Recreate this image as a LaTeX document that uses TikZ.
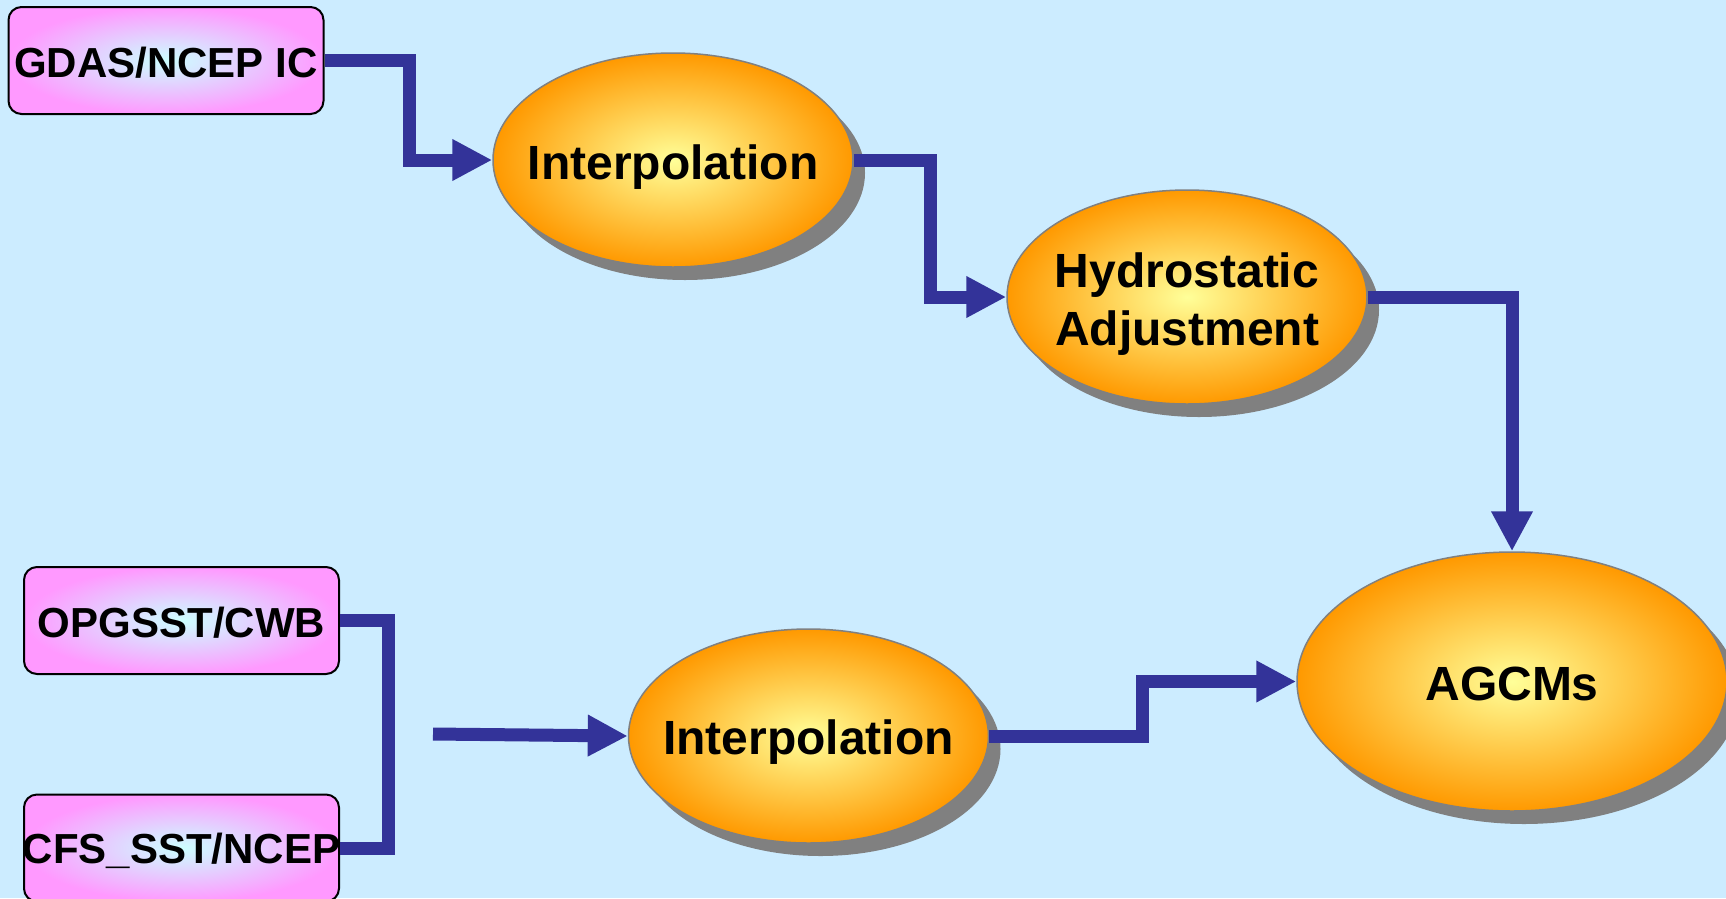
\documentclass[tikz,border=0pt]{standalone}
\usepackage{fontspec}
\setmainfont{Liberation Sans}
\usetikzlibrary{shapes.geometric,arrows.meta,shadows}
\definecolor{bg}{RGB}{204,236,255}
\definecolor{arrowblue}{RGB}{51,51,153}
\definecolor{shadowgray}{RGB}{128,128,128}
\definecolor{orangeout}{RGB}{255,153,0}
\definecolor{yellowin}{RGB}{255,255,153}
\definecolor{pinkout}{RGB}{255,153,255}
\definecolor{cyanin}{RGB}{204,255,255}
\newcommand{\celltext}[2]{\makebox[0pt]{\raisebox{#1}[0pt][0pt]{#2}}}
\begin{document}
\begin{tikzpicture}[x=1pt,y=-1pt,
  srcbox/.style={rectangle, rounded corners=13pt, draw=black, line width=2pt,
    inner color=cyanin, outer color=pinkout, minimum width=315pt, minimum height=107pt,
    inner sep=0pt, font=\fontsize{42}{50}\selectfont\bfseries},
  procell/.style={ellipse, draw=shadowgray, line width=1.5pt,
    inner color=yellowin, outer color=orangeout, inner sep=0pt,
    minimum width=360pt, minimum height=214pt,
    drop shadow={shadow xshift=12pt, shadow yshift=-13pt, fill=shadowgray, opacity=1},
    font=\fontsize{48}{58}\selectfont\bfseries},
  flowarrow/.style={draw=arrowblue, line width=13pt, line join=miter,
    -{Triangle[length=40pt,width=39pt]}},
  bracketline/.style={draw=arrowblue, line width=13pt, line join=miter}
]
\useasboundingbox (0,0) rectangle (1726,898);
\fill[bg] (0,0) rectangle (1726,898);

% source boxes
\node[srcbox] (gdas) at (166,60.5) {\celltext{-16.5pt}{GDAS/NCEP IC}};
\node[srcbox] (opg) at (181.5,620.5) {\celltext{-16.5pt}{OPGSST/CWB}};
\node[srcbox] (cfs) at (181.5,848) {\celltext{-15.5pt}{CFS\_SST/NCEP}};

% process ellipses
\node[procell] (i1) at (673,160) {\celltext{-19pt}{Interpolation}};
\node[procell] (hyd) at (1187,297) {\celltext{10pt}{Hydrostatic}\celltext{-48pt}{Adjustment}};
\node[procell] (i2) at (808.5,736) {\celltext{-18pt}{Interpolation}};
\node[procell, minimum width=430pt, minimum height=259pt] (agcm) at (1512,681.5) {\celltext{-18.5pt}{AGCMs}};

% connectors
\draw[flowarrow] (gdas.east) -- ++(85,0) |- (i1.west);
\draw[flowarrow] (i1.east) -- ++(77,0) |- (hyd.west);
\draw[flowarrow] (hyd.east) -| (agcm.north);
\draw[flowarrow] (i2.east) -- ++(153,0) |- (agcm.west);
\coordinate (free) at (433,734);
\draw[flowarrow] (free) -- (i2.west);
\draw[bracketline] (opg.east) -- ++(48,0) |- (cfs.east);
\end{tikzpicture}
\end{document}
